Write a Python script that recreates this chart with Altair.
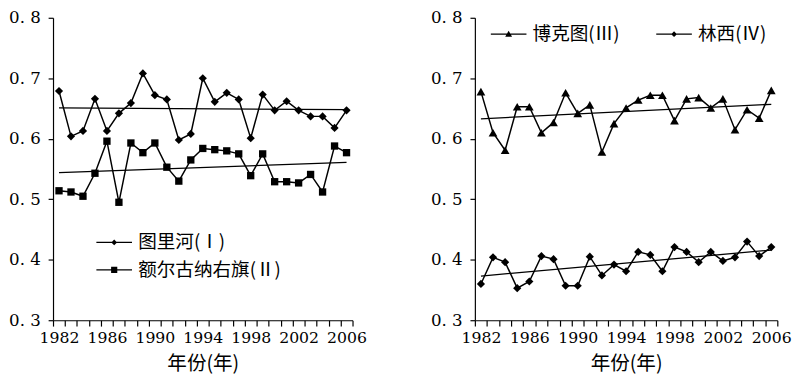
import altair as alt
import pandas as pd

years = list(range(1982, 2007))
tulihe = [0.679, 0.604, 0.613, 0.666, 0.613, 0.642, 0.659, 0.708, 0.672, 0.665, 0.598, 0.608, 0.700,
          0.661, 0.676, 0.665, 0.601, 0.673, 0.647, 0.662, 0.647, 0.637, 0.637, 0.618, 0.647]
eerguna = [0.514, 0.512, 0.505, 0.543, 0.596, 0.495, 0.593, 0.577, 0.593, 0.553, 0.530, 0.565, 0.584,
           0.582, 0.580, 0.575, 0.539, 0.575, 0.529, 0.529, 0.527, 0.541, 0.512, 0.588, 0.577]
boketu = [0.678, 0.610, 0.581, 0.653, 0.653, 0.610, 0.627, 0.676, 0.642, 0.656, 0.578, 0.625, 0.651,
          0.664, 0.672, 0.672, 0.630, 0.666, 0.668, 0.651, 0.666, 0.615, 0.648, 0.634, 0.680]
linxi = [0.360, 0.404, 0.396, 0.353, 0.364, 0.406, 0.401, 0.357, 0.357, 0.405, 0.374, 0.392, 0.381,
         0.413, 0.408, 0.381, 0.421, 0.413, 0.396, 0.413, 0.398, 0.404, 0.430, 0.406, 0.421]

trend_years = [1982, 2006]
trend_tulihe = [0.651, 0.648]
trend_eerguna = [0.544, 0.561]
trend_boketu = [0.633, 0.657]
trend_linxi = [0.373, 0.416]

names_left = ["图里河(Ⅰ)", "额尔古纳右旗(Ⅱ)"]
names_right = ["博克图(Ⅲ)", "林西(Ⅳ)"]
y_ticks = [0.3, 0.4, 0.5, 0.6, 0.7, 0.8]
x_title = "年份(年)"

SERIF = "DejaVu Serif"
CJK = "Noto Sans CJK SC"

# legend symbols: a thin filled bar (the line) plus the marker
PATH_DIAMOND = "M-2.6,-0.1H2.6V0.1H-2.6ZM0,-0.42L0.42,0L0,0.42L-0.42,0Z"
PATH_SQUARE = "M-2.6,-0.1H2.6V0.1H-2.6ZM-0.45,-0.45H0.45V0.45H-0.45Z"
PATH_TRIANGLE = "M-2.6,-0.1H2.6V0.1H-2.6ZM0,-0.5L0.5,0.38L-0.5,0.38Z"

H = 309


def x_enc():
    return alt.X(
        "year:O", bandPosition=0.5, title=x_title,
        scale=alt.Scale(type="band", domain=years, paddingInner=0, paddingOuter=0),
        axis=alt.Axis(tickBand="extent", labelAngle=0,
                      labelExpr="(datum.value - 1982) % 4 == 0 ? datum.label : ''",
                      tickSize=6, labelPadding=4, labelFont=SERIF, labelFontSize=16,
                      titleFont=CJK, titleFontSize=20, titleFontWeight="normal", titlePadding=8))


def y_enc():
    return alt.Y(
        "value:Q", title=None,
        scale=alt.Scale(domain=[0.3, 0.8], nice=False, zero=False),
        axis=alt.Axis(values=y_ticks, labelExpr="replace(format(datum.value, '.1f'), '.', '. ')",
                      tickSize=5, labelPadding=8, labelFont=SERIF, labelFontSize=17))


def panel(series, names, paths, legend_kwargs, width):
    layers = []
    for name, vals, trend, shape, size in series:
        df = pd.DataFrame({"year": years, "value": vals})
        tdf = pd.DataFrame({"year": trend_years, "value": trend})
        layers.append(alt.Chart(tdf).mark_line(color="black", strokeWidth=1.3).encode(x=x_enc(), y=y_enc()))
        layers.append(alt.Chart(df).mark_line(color="black", strokeWidth=1.5).encode(x=x_enc(), y=y_enc()))
        layers.append(alt.Chart(df).mark_point(shape=shape, filled=True, size=size, color="black",
                                               opacity=1).encode(x=x_enc(), y=y_enc()))
    leg_df = pd.DataFrame({"series": names})
    legend_layer = alt.Chart(leg_df).transform_filter("false").mark_point(
        filled=True, size=196, color="black", opacity=1
    ).encode(
        shape=alt.Shape("series:N", scale=alt.Scale(domain=names, range=paths),
                        legend=alt.Legend(title=None, orient="none", padding=0,
                                          labelFont=CJK, labelFontSize=19, labelLimit=0,
                                          labelOffset=15, symbolSize=196,
                                          symbolFillColor="black", symbolOpacity=1,
                                          **legend_kwargs))
    )
    layers.append(legend_layer)
    return alt.layer(*layers).properties(width=width, height=H)


left = panel(
    [(names_left[0], tulihe, trend_tulihe, "diamond", 70),
     (names_left[1], eerguna, trend_eerguna, "square", 56)],
    names_left, [PATH_DIAMOND, PATH_SQUARE],
    dict(legendX=53, legendY=220, direction="vertical", rowPadding=8),
    306)

right = panel(
    [(names_right[0], boketu, trend_boketu, "triangle-up", 80),
     (names_right[1], linxi, trend_linxi, "diamond", 70)],
    names_right, [PATH_TRIANGLE, PATH_DIAMOND],
    dict(legendX=25, legendY=7, direction="horizontal", columnPadding=34),
    309)

chart = alt.hconcat(left, right, spacing=125, bounds="flush").resolve_scale(
    shape="independent"
).resolve_legend(shape="independent").properties(
    padding={"left": 0, "top": -3, "right": 0, "bottom": 0},
).configure_view(stroke=None).configure_axis(
    domainColor="black", tickColor="black", labelColor="black", titleColor="black",
    grid=False, domainWidth=1.2, tickWidth=1.2
).configure_legend(labelColor="black")

chart.save("out.html", embed_options={"renderer": "svg", "actions": False})
